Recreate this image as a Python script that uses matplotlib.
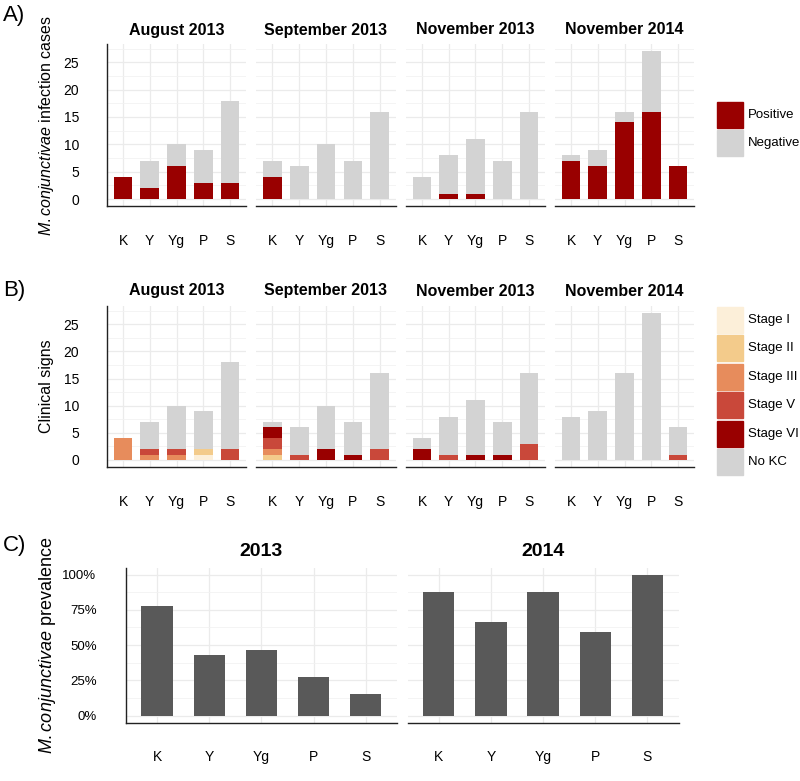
import numpy as np
import matplotlib
matplotlib.use('Agg')
import matplotlib.pyplot as plt
from matplotlib.patches import Rectangle
from matplotlib.ticker import FixedLocator

plt.rcParams['font.family'] = ['Liberation Sans', 'DejaVu Sans']
plt.rcParams['mathtext.fontset'] = 'custom'
plt.rcParams['mathtext.it'] = 'Liberation Sans:italic'
plt.rcParams['mathtext.rm'] = 'Liberation Sans'

# ---- data ----
groups = ['K', 'Y', 'Yg', 'P', 'S']
months = ['August 2013', 'September 2013', 'November 2013', 'November 2014']

totals = {
    'August 2013':    [4, 7, 10, 9, 18],
    'September 2013': [7, 6, 10, 7, 16],
    'November 2013':  [4, 8, 11, 7, 16],
    'November 2014':  [8, 9, 16, 27, 6],
}
positives = {
    'August 2013':    [4, 2, 6, 3, 3],
    'September 2013': [4, 0, 0, 0, 0],
    'November 2013':  [0, 1, 1, 0, 0],
    'November 2014':  [7, 6, 14, 16, 6],
}

stage_names = ['Stage I', 'Stage II', 'Stage III', 'Stage V', 'Stage VI']
stages = {
    'August 2013': {
        'Stage I':   [0, 0, 0, 1, 0],
        'Stage II':  [0, 0, 0, 1, 0],
        'Stage III': [4, 1, 1, 0, 0],
        'Stage V':   [0, 1, 1, 0, 2],
        'Stage VI':  [0, 0, 0, 0, 0],
    },
    'September 2013': {
        'Stage I':   [0, 0, 0, 0, 0],
        'Stage II':  [1, 0, 0, 0, 0],
        'Stage III': [1, 0, 0, 0, 0],
        'Stage V':   [2, 1, 0, 0, 2],
        'Stage VI':  [2, 0, 2, 1, 0],
    },
    'November 2013': {
        'Stage I':   [0, 0, 0, 0, 0],
        'Stage II':  [0, 0, 0, 0, 0],
        'Stage III': [0, 0, 0, 0, 0],
        'Stage V':   [0, 1, 0, 0, 3],
        'Stage VI':  [2, 0, 1, 1, 0],
    },
    'November 2014': {
        'Stage I':   [0, 0, 0, 0, 0],
        'Stage II':  [0, 0, 0, 0, 0],
        'Stage III': [0, 0, 0, 0, 0],
        'Stage V':   [0, 0, 0, 0, 1],
        'Stage VI':  [0, 0, 0, 0, 0],
    },
}

years = ['2013', '2014']
prevalence = {
    '2013': [0.778, 0.429, 0.462, 0.273, 0.150],
    '2014': [0.875, 0.667, 0.875, 0.593, 1.000],
}

# ---- colours ----
c_pos = '#990000'
c_neg = '#D3D3D3'
stage_colors = {'Stage I': '#FCEFD9', 'Stage II': '#F3CB8B', 'Stage III': '#E78C5C',
                'Stage V': '#C9483A', 'Stage VI': '#990000', 'No KC': '#D3D3D3'}
c_prev = '#595959'

W, H = 800, 781
fig = plt.figure(figsize=(8, 7.81), dpi=100)


def px_axes(l, t, r, b):
    return fig.add_axes([l / W, 1 - b / H, (r - l) / W, (b - t) / H])


def style(ax, first, major, minor, ylim, fmt=None):
    ax.set_xlim(-0.6, 4.6)
    ax.set_ylim(*ylim)
    ax.set_xticks(range(len(groups)))
    ax.set_xticklabels(groups, fontsize=10)
    ax.yaxis.set_major_locator(FixedLocator(major))
    ax.yaxis.set_minor_locator(FixedLocator(minor))
    if fmt:
        ax.set_yticklabels([fmt(v) for v in major])
    ax.grid(True, which='major', color='#EBEBEB', lw=0.9)
    ax.grid(True, which='minor', axis='y', color='#F2F2F2', lw=0.6)
    ax.set_axisbelow(True)
    ax.tick_params(which='both', length=0)
    ax.tick_params(axis='x', pad=20, labelsize=10)
    ax.tick_params(axis='y', pad=20, labelsize=10, labelleft=first)
    for s in ['top', 'right']:
        ax.spines[s].set_visible(False)
    ax.spines['left'].set_visible(first)
    for s in ['left', 'bottom']:
        ax.spines[s].set_color('#222222')
        ax.spines[s].set_linewidth(1.0)


x = np.arange(len(groups))
facet_x = [(107, 246), (256, 396), (406, 545), (555, 694)]
ymaj = [0, 5, 10, 15, 20, 25]
ymin = [2.5, 7.5, 12.5, 17.5, 22.5, 27.5]

# ---- panel A ----
for i, m in enumerate(months):
    ax = px_axes(facet_x[i][0], 44, facet_x[i][1], 206.4)
    pos = np.array(positives[m])
    neg = np.array(totals[m]) - pos
    ax.bar(x, pos, width=0.7, color=c_pos)
    ax.bar(x, neg, width=0.7, bottom=pos, color=c_neg)
    style(ax, i == 0, ymaj, ymin, (-1.35, 28.35))
    fig.text((facet_x[i][0] + facet_x[i][1]) / 2 / W, 1 - 30 / H, m,
             ha='center', va='center', fontsize=11.5, fontweight='bold')

# ---- panel B ----
for i, m in enumerate(months):
    ax = px_axes(facet_x[i][0], 306, facet_x[i][1], 467.3)
    bottom = np.zeros(len(groups))
    for s in stage_names:
        v = np.array(stages[m][s])
        ax.bar(x, v, width=0.7, bottom=bottom, color=stage_colors[s])
        bottom = bottom + v
    ax.bar(x, np.array(totals[m]) - bottom, width=0.7, bottom=bottom,
           color=stage_colors['No KC'])
    style(ax, i == 0, ymaj, ymin, (-1.35, 28.35))
    fig.text((facet_x[i][0] + facet_x[i][1]) / 2 / W, 1 - 291 / H, m,
             ha='center', va='center', fontsize=11.5, fontweight='bold')

# ---- panel C ----
facet_c = [(125.7, 397), (407.5, 678.6)]
for i, yr in enumerate(years):
    ax = px_axes(facet_c[i][0], 567.5, facet_c[i][1], 722.7)
    ax.bar(x, prevalence[yr], width=0.6, color=c_prev)
    style(ax, i == 0, [0, 0.25, 0.5, 0.75, 1.0], [0.125, 0.375, 0.625, 0.875],
          (-0.05, 1.05), fmt=lambda v: '%d%%' % round(v * 100))
    ax.tick_params(axis='y', pad=21, labelsize=9.5)
    fig.text((facet_c[i][0] + facet_c[i][1]) / 2 / W, 1 - 552 / H, yr,
             ha='center', va='center', fontsize=14, fontweight='bold')

# ---- y labels and panel letters ----
fig.text(47 / W, 1 - 125 / H, r'$\it{M.conjunctivae}$ infection cases',
         rotation=90, ha='center', va='center', fontsize=11.5)
fig.text(47 / W, 1 - 386.5 / H, 'Clinical signs',
         rotation=90, ha='center', va='center', fontsize=11.5)
fig.text(48 / W, 1 - 645 / H, r'$\it{M.conjunctivae}$ prevalence',
         rotation=90, ha='center', va='center', fontsize=13)
for lab, yc in [('A)', 15), ('B)', 290), ('C)', 546)]:
    fig.text(3 / W, 1 - yc / H, lab, ha='left', va='center', fontsize=16)

# ---- legends ----
def legend(labels, colors, top, pitch, kh):
    for j, (lab, col) in enumerate(zip(labels, colors)):
        t = top + j * pitch
        fig.add_artist(Rectangle((717 / W, 1 - (t + kh) / H), 26 / W, kh / H,
                                 transform=fig.transFigure, color=col))
        fig.text(748 / W, 1 - (t + kh / 2) / H, lab, ha='left', va='center',
                 fontsize=9.5)


legend(['Positive', 'Negative'], [c_pos, c_neg], 101.7, 28.3, 26)
leg_b = stage_names + ['No KC']
legend(leg_b, [stage_colors[s] for s in leg_b], 306.7, 28.5, 26)

fig.savefig('out.png', dpi=100)
